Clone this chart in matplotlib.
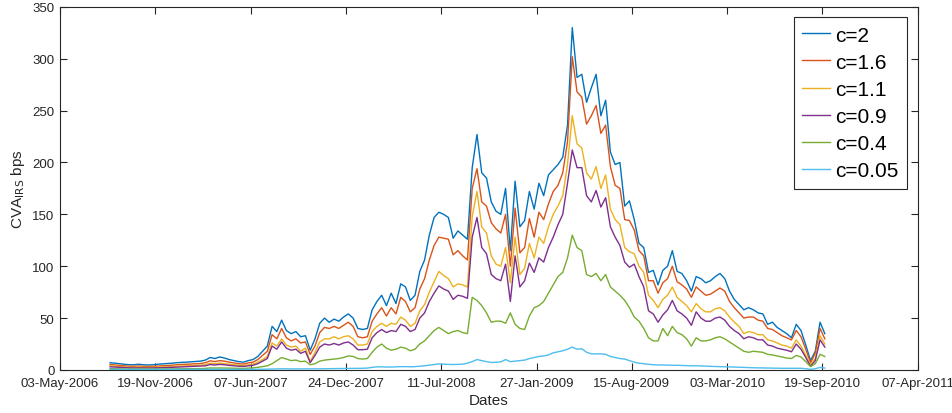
import numpy as np
import pandas as pd
import matplotlib
matplotlib.use('Agg')
import matplotlib.pyplot as plt
import matplotlib.dates as mdates

# sampling dates, every 10 days
dates = pd.date_range('2006-08-16', periods=151, freq='10D')

cva_c2 = [7, 6.5, 6, 5.5, 5, 5, 5.5, 5, 4.8, 5,
          5.5, 5.8, 6, 6.5, 7, 7.2, 7.5, 7.8, 8, 8.5,
          9.5, 12, 11, 12.5, 11.5, 10, 9, 8, 7.5, 9,
          10, 13, 18, 23, 42, 37, 48, 38, 35, 37,
          32, 33, 19, 30, 45, 50, 46, 49, 47, 51,
          54, 50, 40, 39, 40, 58, 66, 72, 62, 74,
          64, 83, 80, 67, 72, 95, 106, 130, 147, 152,
          150, 147, 127, 134, 130, 126, 195, 227, 190, 185,
          162, 153, 150, 175, 115, 182, 138, 144, 172, 155,
          180, 168, 188, 193, 198, 205, 236, 330, 282, 285,
          258, 272, 285, 245, 260, 210, 198, 200, 158, 163,
          145, 122, 118, 94, 96, 82, 96, 100, 115, 95,
          93, 86, 76, 90, 88, 84, 86, 90, 93, 88,
          76, 68, 63, 58, 60, 58, 55, 54, 44, 46,
          41, 38, 35, 31, 44, 38, 24, 9, 18, 46,
          35]

cva_c16 = [5.2, 4.8, 4.5, 4, 3.6, 3.5, 3.8, 3.5, 3.4, 3.5,
           3.8, 4, 4.2, 4.6, 5, 5.2, 5.5, 5.7, 6, 6.2,
           7, 8.8, 8, 9, 8.5, 7.5, 6.8, 6, 5.7, 6.8,
           7.5, 10, 14, 18, 34, 30, 40, 31, 28, 30,
           26, 27, 15, 23, 36, 41, 40, 42, 40, 43,
           46, 42, 32, 31, 32, 47, 54, 60, 52, 60,
           54, 70, 66, 56, 60, 78, 88, 106, 120, 128,
           127, 126, 111, 115, 110, 106, 175, 194, 162, 158,
           142, 136, 132, 150, 100, 156, 113, 118, 146, 128,
           152, 145, 160, 172, 178, 190, 220, 302, 268, 263,
           237, 245, 255, 228, 236, 196, 178, 175, 145, 144,
           135, 115, 110, 86, 86, 74, 84, 88, 100, 85,
           82, 78, 70, 80, 76, 72, 73, 76, 79, 76,
           66, 60, 55, 50, 51, 51, 48, 47, 40, 39,
           36, 33, 31, 29, 38, 32, 20, 7, 16, 40,
           30]

cva_c11 = [4, 3.7, 3.4, 3, 2.6, 2.5, 2.7, 2.5, 2.4, 2.5,
           2.7, 2.9, 3, 3.3, 3.6, 3.8, 4, 4.2, 4.4, 4.6,
           5.2, 6.5, 6, 6.6, 6.2, 5.5, 5, 4.5, 4.3, 5,
           5.6, 7.5, 10, 13, 26, 23, 30, 24, 22, 23,
           18, 21, 8, 17, 27, 30, 30, 32, 30, 32,
           33, 30, 24, 24, 25, 37, 42, 45, 42, 45,
           44, 51, 48, 42, 45, 57, 63, 75, 85, 95,
           91, 88, 80, 83, 82, 80, 148, 172, 138, 132,
           110, 102, 100, 118, 84, 128, 92, 98, 122, 108,
           128, 122, 138, 150, 158, 168, 198, 245, 218, 214,
           190, 184, 196, 175, 188, 155, 145, 140, 118, 114,
           112, 100, 94, 72, 67, 60, 68, 72, 80, 70,
           66, 62, 56, 64, 59, 56, 56, 59, 60, 57,
           51, 46, 42, 35, 37, 36, 34, 34, 29, 28,
           26, 24, 23, 21, 29, 23, 14, 5, 11, 33,
           25]

cva_c09 = [3, 2.8, 2.6, 2.3, 2, 1.9, 2, 1.9, 1.8, 1.9,
           2, 2.2, 2.3, 2.5, 2.8, 3, 3.1, 3.3, 3.4, 3.6,
           4, 5.2, 4.8, 5.3, 5, 4.4, 4, 3.6, 3.4, 4,
           4.5, 6, 8.5, 11, 23, 20, 27, 21, 19, 20,
           16, 18, 7, 14, 22, 25, 24, 25.5, 24, 26,
           27, 24, 19.5, 19.5, 20, 31, 36, 39, 36, 38,
           37, 44, 42, 37, 39, 50, 55, 66, 74, 81,
           78, 76, 68, 72, 71, 69, 128, 147, 118, 112,
           92, 88, 86, 102, 66, 110, 80, 86, 103, 94,
           108, 104, 118, 128, 140, 150, 180, 212, 195, 195,
           168, 162, 173, 157, 166, 138, 128, 120, 104, 99,
           102, 90, 80, 57, 54, 46, 53, 58, 67, 57,
           54, 50, 43, 56, 50, 47, 47, 50, 51, 48,
           42, 38, 35, 30, 32, 31, 29, 29, 24, 23,
           21, 20, 19, 17.5, 25, 20, 12, 3.5, 9, 29,
           22]

cva_c04 = [1.2, 1.1, 1, 1, 0.9, 0.9, 0.9, 0.9, 0.9, 0.9,
           1, 1, 1, 1, 1.1, 1.1, 1.2, 1.2, 1.3, 1.3,
           1.5, 1.9, 1.8, 1.9, 1.8, 1.7, 1.6, 1.5, 1.5, 1.7,
           2, 2.5, 3.2, 4, 6, 9, 12, 10.5, 9, 9.5,
           8, 8.5, 5, 6, 8.5, 9.5, 10, 10.5, 11, 12,
           13.5, 13, 11, 10.5, 11, 17, 22, 25, 21, 19,
           20, 22, 21, 18.5, 20, 25, 28, 33, 38, 41,
           38, 35, 37, 38, 36, 35, 70, 67, 62, 55,
           46, 47, 47, 45, 55, 44, 40, 39, 52, 60,
           62, 66, 74, 82, 90, 94, 108, 130, 118, 115,
           92, 90, 93, 86, 92, 80, 76, 72, 67, 60,
           51, 47, 40, 31, 28, 28, 40, 33, 42, 36,
           34, 30, 23, 31, 28, 28, 29, 31, 32, 30,
           27, 24, 21, 18, 17, 18, 17.5, 17, 15, 14.5,
           13.5, 12.5, 11.5, 11, 14, 12.5, 8, 3.2, 6, 15,
           13]

cva_c005 = [0.5, 0.5, 0.5, 0.5, 0.5, 0.5, 0.5, 0.5, 0.5, 0.5,
            0.5, 0.5, 0.5, 0.5, 0.5, 0.5, 0.5, 0.5, 0.5, 0.5,
            0.6, 0.6, 0.6, 0.6, 0.6, 0.6, 0.6, 0.6, 0.6, 0.6,
            0.6, 0.6, 0.7, 0.7, 0.8, 1, 1.1, 1, 1, 1,
            1, 1, 0.9, 1, 1.1, 1.2, 1.2, 1.3, 1.3, 1.4,
            1.5, 1.5, 1.5, 1.6, 1.8, 2.5, 3, 3, 2.8, 2.8,
            3, 3.2, 3.2, 3, 3.2, 3.6, 4, 4.6, 5.2, 5.8,
            5.5, 5.4, 5.2, 5.4, 5.6, 6.5, 8, 10, 9, 8,
            7.2, 7.4, 7.8, 10, 8, 8.5, 9, 9.5, 11, 12,
            13, 13.5, 14.5, 16.5, 17.5, 18.5, 20, 22, 20, 20.5,
            17, 15.5, 15.5, 15.5, 15, 13, 12, 11, 10.5, 9,
            7.5, 6.5, 6, 5.5, 5, 4.8, 4.8, 4.6, 4.5, 4.5,
            4.3, 4.2, 4, 4, 3.8, 3.6, 3.4, 3.3, 3.2, 3.1,
            3, 2.8, 2.6, 2.4, 2.2, 2.1, 2, 2, 1.9, 1.8,
            1.7, 1.6, 1.6, 1.5, 1.7, 1.6, 1.2, 0.6, 1.2, 2.4,
            1.8]

labels = ['c=2', 'c=1.6', 'c=1.1', 'c=0.9', 'c=0.4', 'c=0.05']
series = [cva_c2, cva_c16, cva_c11, cva_c09, cva_c04, cva_c005]
colors = ['#0072BD', '#D95319', '#EDB120', '#7E2F8E', '#77AC30', '#4DBEEE']

tick_dates = pd.date_range('2006-05-03', '2011-04-07', freq='200D')

plt.rcParams['font.family'] = ['Liberation Sans', 'DejaVu Sans']

fig = plt.figure(figsize=(9.53, 4.14), dpi=100)
ax = fig.add_axes([0.063, 0.104, 0.9, 0.877])

for vals, lab, col in zip(series, labels, colors):
    ax.plot(dates, vals, color=col, lw=1.0, label=lab)

ax.set_xlim(tick_dates[0], tick_dates[-1])
ax.set_ylim(0, 350)
ax.set_xticks(tick_dates)
ax.xaxis.set_major_formatter(mdates.DateFormatter('%d-%b-%Y'))
ax.set_yticks(np.arange(0, 351, 50))

ax.tick_params(direction='in', top=True, right=True, length=5, width=0.8,
               labelsize=9.5, colors='#262626')
ax.tick_params(axis='x', pad=5)
ax.tick_params(axis='y', pad=4)
for sp in ax.spines.values():
    sp.set_color('#262626')
    sp.set_linewidth(0.8)

ax.set_xlabel('Dates', fontsize=11, color='#262626', labelpad=3)
ax.set_ylabel(r'CVA$_{\mathrm{IRS}}$ bps', fontsize=11, color='#262626')

leg = ax.legend(loc='upper right', fontsize=15, handlelength=1.35,
                handletextpad=0.25, labelspacing=0.39, borderaxespad=0.5,
                fancybox=False, framealpha=1, edgecolor='#262626')
leg.get_frame().set_linewidth(0.8)

fig.savefig('out.png', dpi=100)
